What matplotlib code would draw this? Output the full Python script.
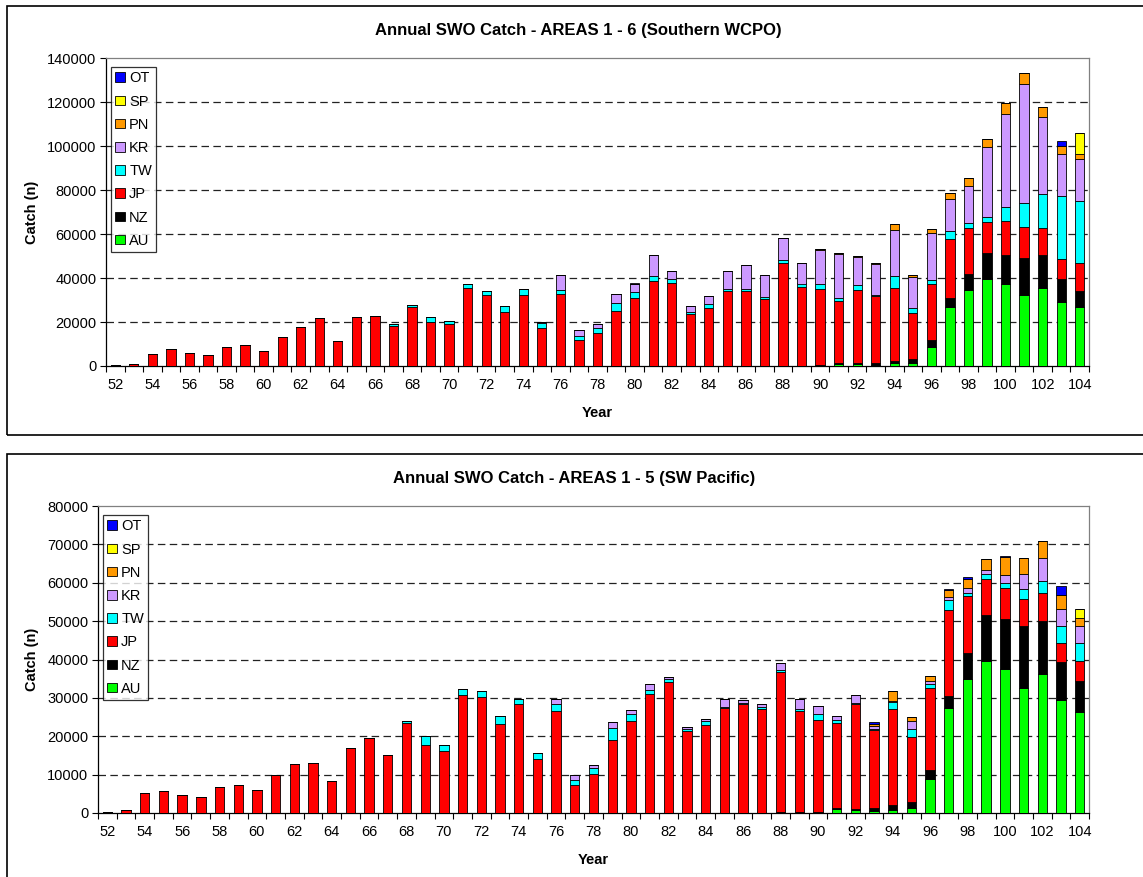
import numpy as np
import matplotlib
matplotlib.use("Agg")
import matplotlib.pyplot as plt
from matplotlib.patches import Patch, Rectangle

plt.rcParams["font.family"] = ["Liberation Sans", "DejaVu Sans"]

years = list(range(52, 105))
series_names = ["AU", "NZ", "JP", "TW", "KR", "PN", "SP", "OT"]
series_colors = ["#00FF00", "#000000", "#FF0000", "#00FFFF", "#CC99FF", "#FF9900", "#FFFF00", "#0000FF"]

# ---- Areas 1-6 (Southern WCPO), catch in numbers by fleet ----
au_6 = [0]*38 + [300, 1000, 800, 300, 1200, 1400, 8800, 27000, 34700, 39600, 37100, 32300, 35600, 29300, 26700]
nz_6 = [0]*39 + [500, 400, 1200, 1200, 1600, 2900, 3800, 7000, 11600, 13200, 16800, 14700, 10300, 7400]
jp_6 = [400, 1000, 5300, 7600, 5800, 4900, 8600, 9500, 6700, 13000, 17700, 21700, 11400, 22100, 22900,
        18200, 26800, 20000, 19100, 35500, 32100, 24600, 32100, 17300, 32600, 11800, 14900, 24900, 30800,
        38800, 37800, 23500, 26200, 34000, 34300, 30600, 46700, 36100, 34600, 27900, 33200, 30300, 32900,
        20900, 25500, 27100, 20900, 14400, 15500, 14000, 12300, 9200, 12700]
tw_6 = [0]*15 + [1000, 900, 2400, 1400, 2000, 2000, 2600, 2900, 2300, 2000, 1700, 2400, 3900, 2900,
                 2000, 1600, 900, 1800, 1200, 600, 600, 1400, 1400, 2300, 1700, 2300, 600, 5500,
                 2400, 1800, 3300, 2300, 2000, 6700, 11200, 15500, 28300, 28200]
kr_6 = [0]*23 + [300, 6700, 2700, 2000, 3800, 3800, 9500, 3800, 2900, 3600, 8200, 11000, 10000, 10000,
                 9100, 15600, 19800, 12700, 13800, 20800, 14000, 21400, 14900, 17000, 31800, 42100,
                 54100, 35000, 19100, 19300]
pn_6 = [0]*38 + [400, 300, 500, 600, 2900, 900, 2000, 2400, 3500, 3900, 4900, 4900, 4700, 3800, 2000]
sp_6 = [0]*52 + [9500]
ot_6 = [0]*51 + [2100, 0]

# ---- Areas 1-5 (SW Pacific), catch in numbers by fleet ----
au_5 = [0]*36 + [200, 200, 200, 1000, 700, 400, 900, 1200, 8900, 27300, 34900, 39500, 37400, 32700, 36100, 29500, 26400]
nz_5 = [0]*39 + [400, 300, 1000, 1300, 1700, 2300, 3100, 6800, 12100, 13100, 16100, 14000, 9800, 8000]
jp_5 = [300, 800, 5300, 5700, 4700, 4100, 6900, 7400, 6000, 9900, 12700, 13100, 8300, 17000, 19500,
        15100, 23500, 17800, 16200, 30800, 30300, 23300, 28400, 14200, 26600, 7400, 10200, 18900, 24100,
        31000, 34200, 21400, 23000, 27400, 28300, 27100, 36600, 26400, 24100, 22100, 27300, 20200, 24900,
        17000, 21300, 22400, 14800, 9400, 8200, 7000, 7100, 4900, 5300]
tw_5 = [0]*16 + [600, 2200, 1400, 1600, 1500, 1900, 1400, 1400, 1800, 1300, 1400, 3300, 1600, 1100,
                 800, 600, 900, 300, 400, 400, 400, 600, 1500, 800, 300, 400, 1900, 2000, 1100, 2700,
                 800, 1400, 1200, 2600, 3200, 4600, 4700]
kr_5 = [0]*24 + [1200, 1100, 800, 1400, 1200, 1600, 500, 500, 600, 1900, 700, 800, 1900, 2400, 2200,
                 1100, 2200, 800, 300, 2200, 700, 900, 1400, 1000, 2100, 3900, 6100, 4400, 4400]
pn_5 = [0]*41 + [500, 2600, 1000, 1500, 1600, 2200, 2800, 4700, 4100, 4300, 3600, 2100]
sp_5 = [0]*52 + [2200]
ot_5 = [0]*41 + [500, 0, 0, 0, 500, 600, 0, 300, 0, 200, 2300, 0]

panels = [
    {
        "title": "Annual SWO Catch - AREAS 1 - 6 (Southern WCPO)",
        "series": [au_6, nz_6, jp_6, tw_6, kr_6, pn_6, sp_6, ot_6],
        "yticks": list(range(0, 140001, 20000)),
        "rect_px": (106, 58, 1089, 366),
        "frame_px": (7, 6, 1160, 435),
    },
    {
        "title": "Annual SWO Catch - AREAS 1 - 5 (SW Pacific)",
        "series": [au_5, nz_5, jp_5, tw_5, kr_5, pn_5, sp_5, ot_5],
        "yticks": list(range(0, 80001, 10000)),
        "rect_px": (98, 506, 1089, 813),
        "frame_px": (7, 454, 1160, 900),
    },
]

W, H = 1143, 877
fig = plt.figure(figsize=(W / 100, H / 100), dpi=100)
fig.patch.set_facecolor("white")

x = np.arange(len(years))

for p in panels:
    fl, ft, fr, fb = p["frame_px"]
    fig.add_artist(Rectangle((fl / W, 1 - fb / H), (fr - fl) / W, (fb - ft) / H,
                             transform=fig.transFigure, fill=False, edgecolor="black", lw=1.2))

    l, t, r, b = p["rect_px"]
    ax = fig.add_axes([l / W, 1 - b / H, (r - l) / W, (b - t) / H])

    bottom = np.zeros(len(years))
    for vals, color in zip(p["series"], series_colors):
        v = np.array(vals, dtype=float)
        ax.bar(x, v, bottom=bottom, width=0.5, color=color, edgecolor="black", linewidth=0.6, zorder=3)
        bottom += v

    ymax = p["yticks"][-1]
    ax.set_xlim(-0.5, len(years) - 0.5)
    ax.set_ylim(0, ymax)
    ax.set_yticks(p["yticks"])
    ax.set_yticklabels([str(v) for v in p["yticks"]])
    for yv in p["yticks"][1:-1]:
        ax.axhline(yv, color="#222222", lw=0.9, dashes=(6, 3.5), zorder=1)

    ax.set_xticks(x[::2])
    ax.set_xticklabels([str(y) for y in years[::2]])
    ax.set_xticks(np.arange(-0.5, len(years), 1), minor=True)
    ax.tick_params(axis="x", which="major", length=0, pad=9, labelsize=10.5)
    ax.tick_params(axis="x", which="minor", length=4, width=0.8, direction="out")
    ax.tick_params(axis="y", length=4, width=0.8, direction="out", pad=3, labelsize=10.5)

    for side in ("left", "bottom"):
        ax.spines[side].set_color("black")
        ax.spines[side].set_linewidth(0.9)
    for side in ("top", "right"):
        ax.spines[side].set_color("#808080")
        ax.spines[side].set_linewidth(0.9)

    ax.set_ylabel("Catch (n)", fontsize=10.5, fontweight="bold", labelpad=6)
    ax.set_xlabel("Year", fontsize=10.5, fontweight="bold", labelpad=10)

    cx = ((l + r) / 2 - 19) / W
    fig.text(cx, 1 - (t - 27) / H, p["title"], ha="center", va="center", fontsize=12, fontweight="bold")

    handles = [Patch(facecolor=c, edgecolor="black", linewidth=0.6, label=n)
               for n, c in zip(series_names, series_colors)][::-1]
    leg = ax.legend(handles=handles, loc="upper left", bbox_to_anchor=(5 / (r - l), 1 - 9 / (b - t)),
                    borderaxespad=0, frameon=True, fancybox=False, fontsize=10.5,
                    handlelength=0.65, handleheight=0.65, handletextpad=0.3,
                    labelspacing=0.63, borderpad=0.3)
    leg.get_frame().set_edgecolor("black")
    leg.get_frame().set_linewidth(0.9)
    leg.set_zorder(5)

fig.savefig("out.png", dpi=100, facecolor="white")
